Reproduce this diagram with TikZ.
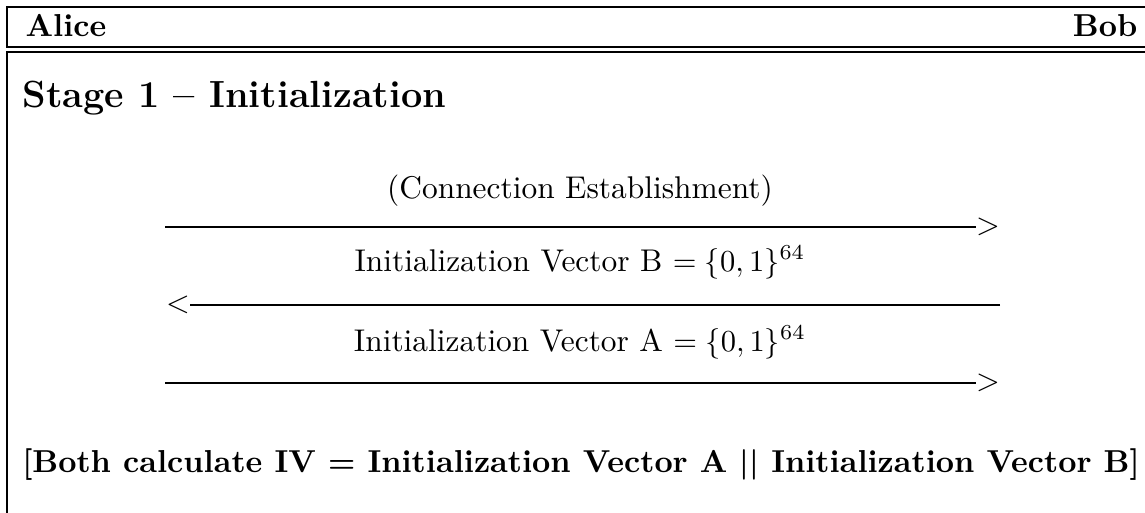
\documentclass[tikz,border=0pt]{standalone}
\usepackage{amsmath}
\begin{document}
\begin{tikzpicture}[x=0.3279pt,y=-0.3279pt,
  frame/.style={line width=0.75pt},
  msgline/.style={line width=0.7pt},
  tip/.style={inner sep=0pt,font=\fontsize{10.3}{12}\selectfont},
  lbl/.style={inner sep=0pt,anchor=base,font=\fontsize{10.3}{12}\selectfont},
  boldlbl/.style={inner sep=0pt,font=\fontsize{10.4}{12}\selectfont\bfseries}]
\useasboundingbox (0,0) rectangle (1145,512);
% header box
\draw[frame] (1160,7) -- (7,7) -- (7,47) -- (1160,47);
\node[boldlbl,anchor=base west] (alice) at (25,36) {Alice};
\node[boldlbl,anchor=base east] (bob) at (1138,36) {Bob};
% body box
\draw[frame] (1160,52) -- (7,52) -- (7,520);
\node[inner sep=0pt,anchor=base west,font=\fontsize{12.4}{15}\selectfont\bfseries] (stage) at (22,107) {Stage 1 -- Initialization};
% message 1
\node[lbl] (conn) at (580,198) {(Connection Establishment)};
\coordinate (m1s) at (165,227);
\node[tip] (t1) at (988,227) {$>$};
\draw[msgline] (m1s) -- (t1.west);
% message 2
\node[lbl] (ivb) at (580,271) {Initialization Vector B $=\{0,1\}^{64}$};
\coordinate (m2e) at (1000,305);
\node[tip] (t2) at (178,305) {$<$};
\draw[msgline] (m2e) -- (t2.east);
% message 3
\node[lbl] (iva) at (580,351) {Initialization Vector A $=\{0,1\}^{64}$};
\coordinate (m3s) at (165,383);
\node[tip] (t3) at (988,383) {$>$};
\draw[msgline] (m3s) -- (t3.west);
% conclusion
\node[boldlbl,anchor=base] (both) at (581,472) {{[}Both calculate IV $\boldsymbol{=}$ Initialization Vector A $\boldsymbol{||}$ Initialization Vector B{]}};
\end{tikzpicture}
\end{document}
